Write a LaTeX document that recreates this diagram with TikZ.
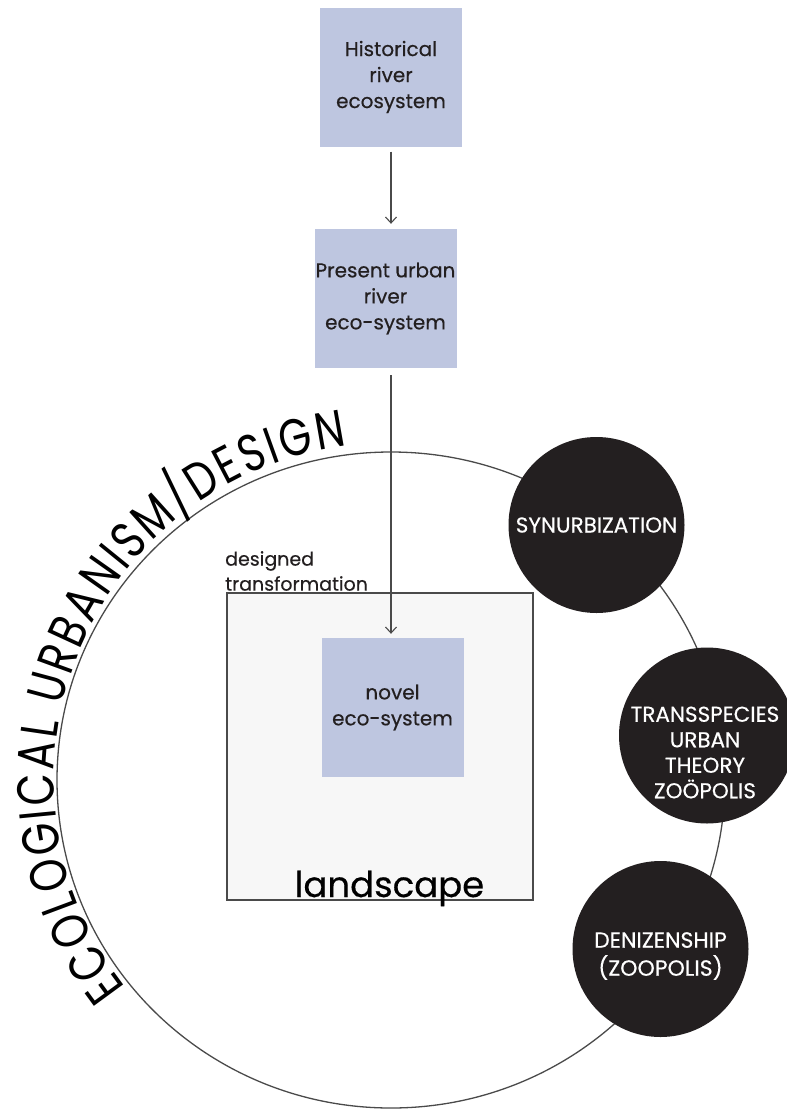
\documentclass[tikz,border=0pt]{standalone}
\usepackage{fontspec}
\setmainfont{Poppins}[FakeBold=0.4]
\newfontfamily\arcfont{Poppins}[FakeStretch=0.8]
\usetikzlibrary{arrows.meta,calc,decorations.text}
\definecolor{boxblue}{HTML}{BEC6E0}
\definecolor{ink}{HTML}{231F20}
\definecolor{linegray}{HTML}{4A4A4A}
\definecolor{paper}{HTML}{F7F7F7}
\begin{document}
\begin{tikzpicture}[x=1pt,y=1pt,
  eco/.style={fill=boxblue, minimum width=142pt, minimum height=139pt, inner sep=0pt, align=center, font=\fontsize{20}{26}\selectfont, text=ink},
  disc/.style={circle, fill=ink, minimum size=176pt, inner sep=0pt},
  disctext/.style={text=white, align=center, inner sep=0pt, font=\fontsize{21.5}{25.5}\selectfont},
  arr/.style={draw=linegray, line width=1.1pt, -{Straight Barb[length=6pt,width=11pt]}},
  landbox/.style={fill=paper, draw=linegray, line width=1.5pt, minimum width=306pt, minimum height=307pt, inner sep=0pt},
]
\useasboundingbox (0,0) rectangle (787,-1109);
% big circle
\draw[linegray, line width=1.3pt] (391,-780) ellipse [x radius=334pt, y radius=328pt];
\path[decorate, decoration={text along path, text={|\arcfont\fontsize{52}{62}\selectfont|ECOLOGICAL URBANISM/DESIGN}, text align={fit to path}}]
  ($(391,-780)+(218:337pt)$) arc[start angle=218, end angle=97.5, radius=337pt];
% boxes
\node[eco] (b1) at (391,-77) {Historical\\river\\ecosystem};
\node[eco] (b2) at (385.5,-298.5) {Present urban\\river\\eco-system};
\node[landbox] (land) at (380,-746.5) {};
\node[eco] (nov) at (392.5,-707.5) {novel\\eco-system};
\node[anchor=base, inner sep=0pt, font=\fontsize{35.5}{44}\selectfont] (landtxt) at (389.5,-897) {landscape};
\node[anchor=south west, inner sep=0pt, align=left, font=\fontsize{19}{25}\selectfont, text=ink] (dt) at (225,-591) {designed\\transformation};
% arrows
\draw[arr] ($(b1.south)+(0,-5)$) -- ($(b1.south |- b2.north)+(0,5)$);
\draw[arr] ($(b1.south |- b2.south)+(0,-7)$) -- ($(b1.south |- nov.north)+(0,4)$);
% discs
\node[disc] (syn) at (596.5,-525) {};
\node[disctext] (syntxt) at (syn) {SYNURBIZATION};
\node[disc] (tra) at (707,-735.5) {};
\node[disctext] (tratxt) at ($(tra)+(-2,-17)$) {TRANSSPECIES\\URBAN\\THEORY\\ZOÖPOLIS};
\node[disc] (den) at (660.5,-949) {};
\node[disctext, font=\fontsize{22}{28}\selectfont] (dentxt) at ($(den)+(0,-7)$) {DENIZENSHIP\\(ZOOPOLIS)};
\end{tikzpicture}
\end{document}
